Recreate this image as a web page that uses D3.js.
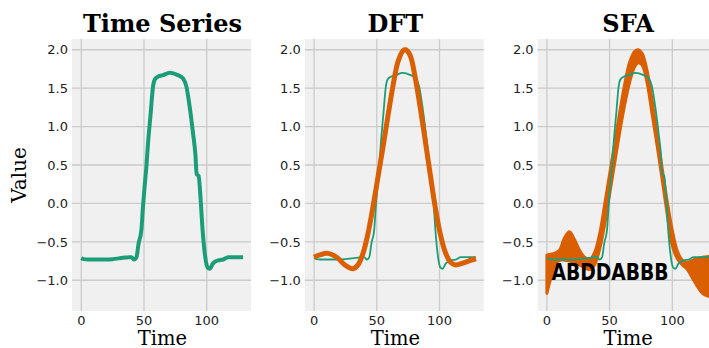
<!DOCTYPE html>
<html>
<head>
<meta charset="utf-8">
<script src="https://cdn.jsdelivr.net/npm/d3@7"></script>
<style>
  html, body { margin: 0; padding: 0; background: #fff; }
  svg { display: block; }
</style>
</head>
<body>
<div id="chart"></div>
<script>
// --- data ---
const titles = ["Time Series", "DFT", "SFA"];
const xTicks = [0, 50, 100];
const yTicks = [-1.0, -0.5, 0.0, 0.5, 1.0, 1.5, 2.0];
const sfaWord = "ABDDABBB";

// raw series (green)
const seriesT = [0, 2, 5, 10, 15, 20, 25, 30, 35, 38, 40, 42, 44, 45.7, 47.9, 49.2, 50.5, 51.9, 53.2, 55.3, 57.2,
  58.5, 61.2, 65.2, 70.5, 77, 81, 83.8, 86.4, 89.1, 91, 92, 93.5, 95.2, 96.5, 97.9, 99.2, 100.6, 102.4,
  105, 109, 113, 117, 122, 129];
const seriesV = [-0.71, -0.725, -0.73, -0.73, -0.73, -0.73, -0.725, -0.715, -0.705, -0.70, -0.70, -0.73, -0.70,
  -0.52, -0.35, -0.04, 0.22, 0.48, 0.78, 1.17, 1.52, 1.61, 1.65, 1.67, 1.70, 1.67, 1.63, 1.52, 1.26, 0.91,
  0.63, 0.38, 0.36, 0.04, -0.30, -0.57, -0.74, -0.83, -0.85, -0.78, -0.74, -0.73, -0.70, -0.70, -0.70];

// DFT reconstruction (orange)
const dftT = [0, 4.5, 11, 18, 24.5, 31, 35, 39, 43, 47, 51, 55, 59, 63, 67, 71, 73, 76.5, 80.5, 84.5,
  88.5, 92.5, 96.5, 100.5, 104.5, 108.5, 112.5, 118, 123, 129];
const dftV = [-0.70, -0.67, -0.65, -0.70, -0.80, -0.85, -0.80, -0.65, -0.39, -0.04, 0.35, 0.74, 1.15, 1.54,
  1.85, 1.99, 2.0, 1.93, 1.65, 1.26, 0.83, 0.39, -0.04, -0.39, -0.63, -0.76, -0.80, -0.78, -0.75, -0.72];

// SFA band: upper and lower bound of the reconstructions
const sfaT = [0, 3, 6, 10, 14, 18, 22, 26, 30, 34, 38, 42, 46, 50, 54, 58, 62, 66, 70, 73, 76, 80, 84,
  88, 92, 96, 100, 104, 108, 112, 116, 120, 124, 129];
const sfaHi = [-0.67, -0.66, -0.65, -0.61, -0.45, -0.37, -0.47, -0.61, -0.70, -0.73, -0.64, -0.40, -0.02,
  0.38, 0.78, 1.18, 1.55, 1.84, 1.98, 2.0, 1.95, 1.72, 1.33, 0.89, 0.45, 0.02, -0.35, -0.62, -0.74, -0.77,
  -0.74, -0.72, -0.70, -0.69];
const sfaLo = [-1.17, -0.98, -0.82, -0.74, -0.74, -0.75, -0.77, -0.80, -0.84, -0.86, -0.80, -0.60, -0.28,
  0.12, 0.52, 0.92, 1.28, 1.58, 1.78, 1.83, 1.80, 1.56, 1.15, 0.74, 0.30, -0.15, -0.55, -0.72, -0.80, -0.86,
  -0.97, -1.08, -1.17, -1.21];

const green = "#1b9e77", orange = "#d95f02";
const W = 709, H = 348;
const plotTop = 39, plotBottom = 311, plotW = 179;
const panelLeft = [72, 304.8, 537.6];

const svg = d3.select("#chart").append("svg")
  .attr("width", W).attr("height", H);
svg.append("rect").attr("width", W).attr("height", H).attr("fill", "#fff");

const y = d3.scaleLinear().domain([-1.40, 2.14]).range([plotBottom, plotTop]);
const fmt = d3.format(".1f");

const seriesPts = seriesT.map((t, i) => [t, seriesV[i]]);
const dftPts = dftT.map((t, i) => [t, dftV[i]]);
const sfaPts = sfaT.map((t, i) => ({ t: t, hi: sfaHi[i], lo: sfaLo[i] }));

titles.forEach((title, p) => {
  const x0 = panelLeft[p];
  const x = d3.scaleLinear().domain([-7.4, 135.3]).range([x0, x0 + plotW]);
  const g = svg.append("g");

  g.append("rect")
    .attr("x", x0).attr("y", plotTop)
    .attr("width", plotW).attr("height", plotBottom - plotTop)
    .attr("fill", "#f0f0f0");

  // grid
  g.selectAll(".hg").data(yTicks).enter().append("line")
    .attr("x1", x0).attr("x2", x0 + plotW)
    .attr("y1", d => y(d)).attr("y2", d => y(d))
    .attr("stroke", "#cbcbcb").attr("stroke-width", 1.3);
  g.selectAll(".vg").data(xTicks).enter().append("line")
    .attr("x1", d => x(d)).attr("x2", d => x(d))
    .attr("y1", plotTop).attr("y2", plotBottom)
    .attr("stroke", "#cbcbcb").attr("stroke-width", 1.3);

  // tick labels
  g.selectAll(".yl").data(yTicks).enter().append("text")
    .attr("x", x0 - 4).attr("y", d => y(d)).attr("dy", "0.36em")
    .attr("text-anchor", "end")
    .attr("font-family", "DejaVu Sans").attr("font-size", 13).attr("fill", "#222")
    .text(d => fmt(d));
  g.selectAll(".xl").data(xTicks).enter().append("text")
    .attr("x", d => x(d)).attr("y", plotBottom + 13.5)
    .attr("text-anchor", "middle")
    .attr("font-family", "DejaVu Sans").attr("font-size", 13).attr("fill", "#222")
    .text(d => d);

  // titles
  g.append("text")
    .attr("x", x0 + plotW / 2 + 1).attr("y", 32)
    .attr("text-anchor", "middle")
    .attr("font-family", "DejaVu Serif").attr("font-weight", "bold").attr("font-size", 24)
    .attr("fill", "#000")
    .text(title);
  g.append("text")
    .attr("x", x0 + plotW / 2 + 1).attr("y", 344.5)
    .attr("text-anchor", "middle")
    .attr("font-family", "DejaVu Serif").attr("font-size", 19.5).attr("fill", "#000")
    .text("Time");

  const line = d3.line()
    .x(d => x(d[0])).y(d => y(d[1]))
    .curve(d3.curveMonotoneX);
  const smooth = d3.line()
    .x(d => x(d[0])).y(d => y(d[1]))
    .curve(d3.curveCatmullRom);

  if (p === 0) {
    g.append("path").datum(seriesPts)
      .attr("d", line).attr("fill", "none")
      .attr("stroke", green).attr("stroke-width", 4)
      .attr("stroke-linejoin", "round").attr("stroke-linecap", "butt");
  } else if (p === 1) {
    g.append("path").datum(seriesPts)
      .attr("d", line).attr("fill", "none")
      .attr("stroke", green).attr("stroke-width", 1.8);
    g.append("path").datum(dftPts)
      .attr("d", smooth).attr("fill", "none")
      .attr("stroke", orange).attr("stroke-width", 5)
      .attr("stroke-linejoin", "round");
  } else {
    const band = d3.area()
      .x(d => x(d.t)).y0(d => y(d.lo)).y1(d => y(d.hi))
      .curve(d3.curveCatmullRom);
    g.append("path").datum(sfaPts)
      .attr("d", band).attr("fill", orange)
      .attr("stroke", orange).attr("stroke-width", 3)
      .attr("stroke-linejoin", "round");
    g.append("path").datum(seriesPts)
      .attr("d", line).attr("fill", "none")
      .attr("stroke", green).attr("stroke-width", 1.8);
    g.append("text")
      .attr("x", x(3.7)).attr("y", y(-1.0))
      .attr("font-family", "DejaVu Sans").attr("font-weight", "bold").attr("font-size", 23.5)
      .attr("textLength", 117).attr("lengthAdjust", "spacingAndGlyphs")
      .attr("fill", "#000")
      .text(sfaWord);
  }
});

svg.append("text")
  .attr("transform", "translate(26," + ((plotTop + plotBottom) / 2) + ") rotate(-90)")
  .attr("text-anchor", "middle")
  .attr("font-family", "DejaVu Serif").attr("font-size", 20).attr("fill", "#000")
  .text("Value");
</script>
</body>
</html>
